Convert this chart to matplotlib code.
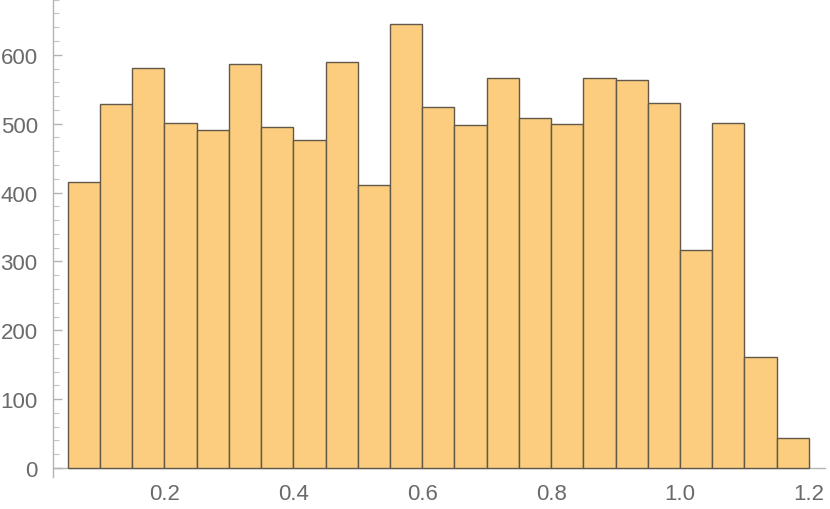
import matplotlib
matplotlib.use('Agg')
import matplotlib.pyplot as plt
import numpy as np
from matplotlib.ticker import MultipleLocator

# histogram: 23 bins of width 0.05 from 0.05 to 1.2
bin_width = 0.05
bin_starts = np.round(0.05 + bin_width * np.arange(23), 2)
counts = [416, 528, 581, 501, 491, 587, 495, 477, 589, 411, 645, 524,
          498, 567, 508, 500, 567, 564, 530, 316, 501, 161, 44]

plt.rcParams['font.family'] = ['Liberation Sans', 'DejaVu Sans']

fig = plt.figure(figsize=(8.3, 5.1), dpi=100)
ax = fig.add_axes([53 / 830, 32 / 510, (825 - 53) / 830, 478 / 510])

ax.bar(bin_starts, counts, width=bin_width, align='edge',
       color='#fccd7e', edgecolor='#62594b', linewidth=1.0, zorder=3)

ax.set_xlim(0.027, 1.225)
ax.set_ylim(-13, 681)

for s in ['top', 'right']:
    ax.spines[s].set_visible(False)
ax.spines['bottom'].set_position(('data', 0))
for s in ['left', 'bottom']:
    ax.spines[s].set_color('#b4b4b4')
    ax.spines[s].set_linewidth(1.0)
ax.set_axisbelow(True)

ax.set_xticks([0.2, 0.4, 0.6, 0.8, 1.0, 1.2])
ax.set_xticklabels(['0.2', '0.4', '0.6', '0.8', '1.0', '1.2'])
ax.set_yticks([0, 100, 200, 300, 400, 500, 600])
ax.yaxis.set_minor_locator(MultipleLocator(20))

ax.tick_params(axis='y', which='major', direction='in', length=6.5, width=1,
               color='#b4b4b4', pad=11, labelsize=16, labelcolor='#6a6a6a')
ax.tick_params(axis='y', which='minor', direction='in', length=4, width=0.8,
               color='#c4c4c4')
ax.tick_params(axis='x', which='major', direction='in', length=6.5, width=1,
               color='#b4b4b4', pad=11, labelsize=16, labelcolor='#6a6a6a')

fig.savefig('out.png', dpi=100)
